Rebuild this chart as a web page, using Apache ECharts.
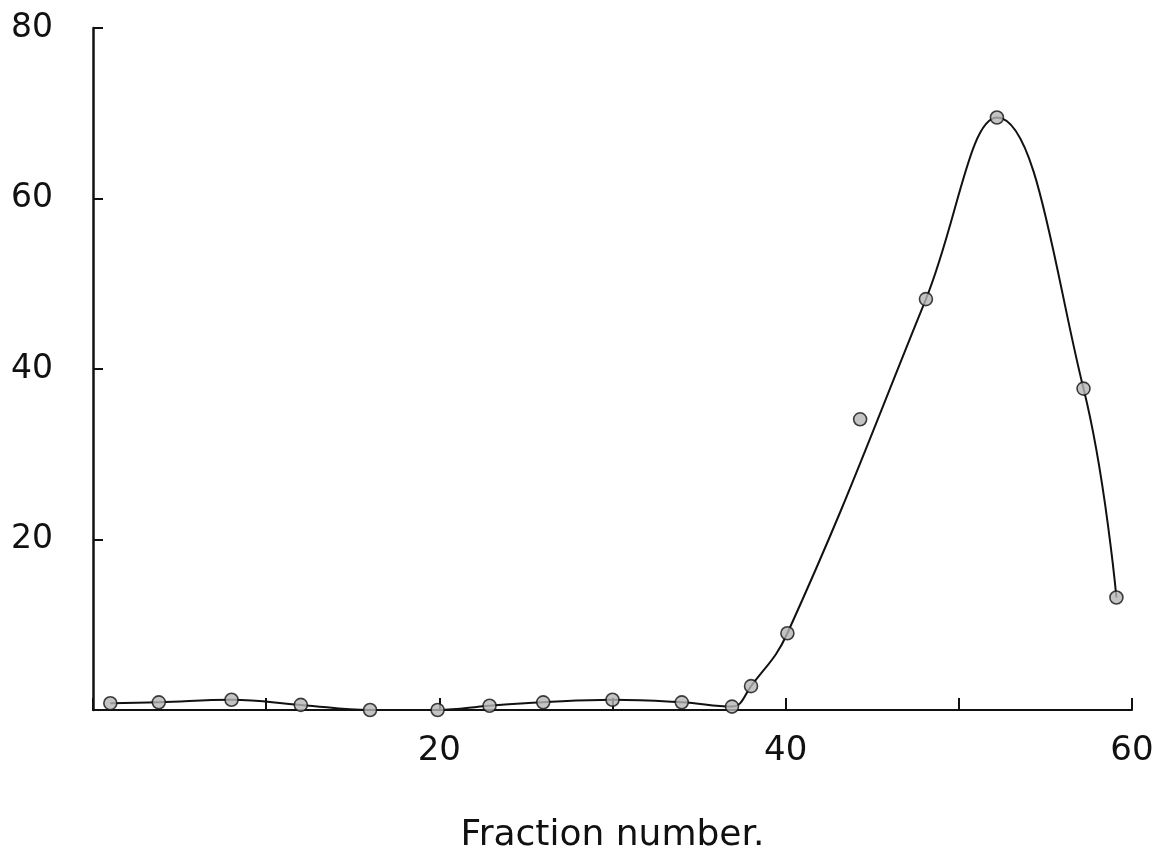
<!DOCTYPE html>
<html>
<head>
<meta charset="utf-8">
<script src="https://cdn.jsdelivr.net/npm/echarts@6/dist/echarts.min.js"></script>
<style>
  html, body { margin: 0; padding: 0; background: #fff; }
  #chart { width: 1161px; height: 854px; }
</style>
</head>
<body>
<div id="chart"></div>
<script>
// Data
var fraction = [1.0, 3.8, 8.0, 12.0, 16.0, 19.9, 22.9, 26.0, 30.0, 34.0, 36.9, 38.0, 40.1, 44.3, 48.1, 52.2, 57.2, 59.1];
var value    = [0.8, 0.9, 1.2, 0.6, 0.0, 0.0, 0.5, 0.9, 1.2, 0.9, 0.4, 2.8, 9.0, 34.1, 48.2, 69.5, 37.7, 13.2];
// 1 = the drawn curve passes through this point, 0 = point lies off the curve
var onCurve  = [1, 1, 1, 1, 1, 1, 1, 1, 1, 1, 1, 1, 1, 0, 1, 1, 1, 1];
var xTickLabels = [20, 40, 60];
var yTickLabels = [20, 40, 60, 80];
var xName = 'Fraction number.';

var points = fraction.map(function (f, i) { return [f, value[i]]; });
var curve = points.filter(function (p, i) { return onCurve[i] === 1; });

var chart = echarts.init(document.getElementById('chart'));
var font = 'DejaVu Sans';
chart.setOption({
  animation: false,
  backgroundColor: '#ffffff',
  grid: { left: 93, right: 29, top: 28, bottom: 144, outerBoundsMode: 'none', containLabel: false },
  xAxis: {
    type: 'value', min: 0, max: 60, interval: 10,
    name: xName, nameLocation: 'middle', nameGap: 108,
    nameTextStyle: { fontFamily: font, fontSize: 36, color: '#111' },
    axisLine: { show: true, lineStyle: { color: '#111', width: 2 } },
    axisTick: { show: true, inside: true, length: 12, lineStyle: { color: '#111', width: 2 } },
    splitLine: { show: false },
    axisLabel: {
      margin: 24, fontFamily: font, fontSize: 34, color: '#111',
      formatter: function (v) { return xTickLabels.indexOf(v) >= 0 ? String(v) : ''; }
    }
  },
  yAxis: {
    type: 'value', min: 0, max: 80, interval: 20,
    axisLine: { show: true, lineStyle: { color: '#111', width: 2.5 } },
    axisTick: { show: true, inside: true, length: 10, lineStyle: { color: '#111', width: 2 } },
    splitLine: { show: false },
    axisLabel: {
      margin: 40, fontFamily: font, fontSize: 33, color: '#111',
      formatter: function (v) { return yTickLabels.indexOf(v) >= 0 ? String(v) : ''; }
    }
  },
  series: [
    {
      type: 'line', data: curve, smooth: 0.42, showSymbol: false,
      lineStyle: { color: '#111', width: 2 }, z: 2
    },
    {
      type: 'scatter', data: points, symbol: 'circle', symbolSize: 13,
      itemStyle: { color: '#b5b5b5', borderColor: '#111', borderWidth: 1.6 }, z: 3
    }
  ]
});
</script>
</body>
</html>
